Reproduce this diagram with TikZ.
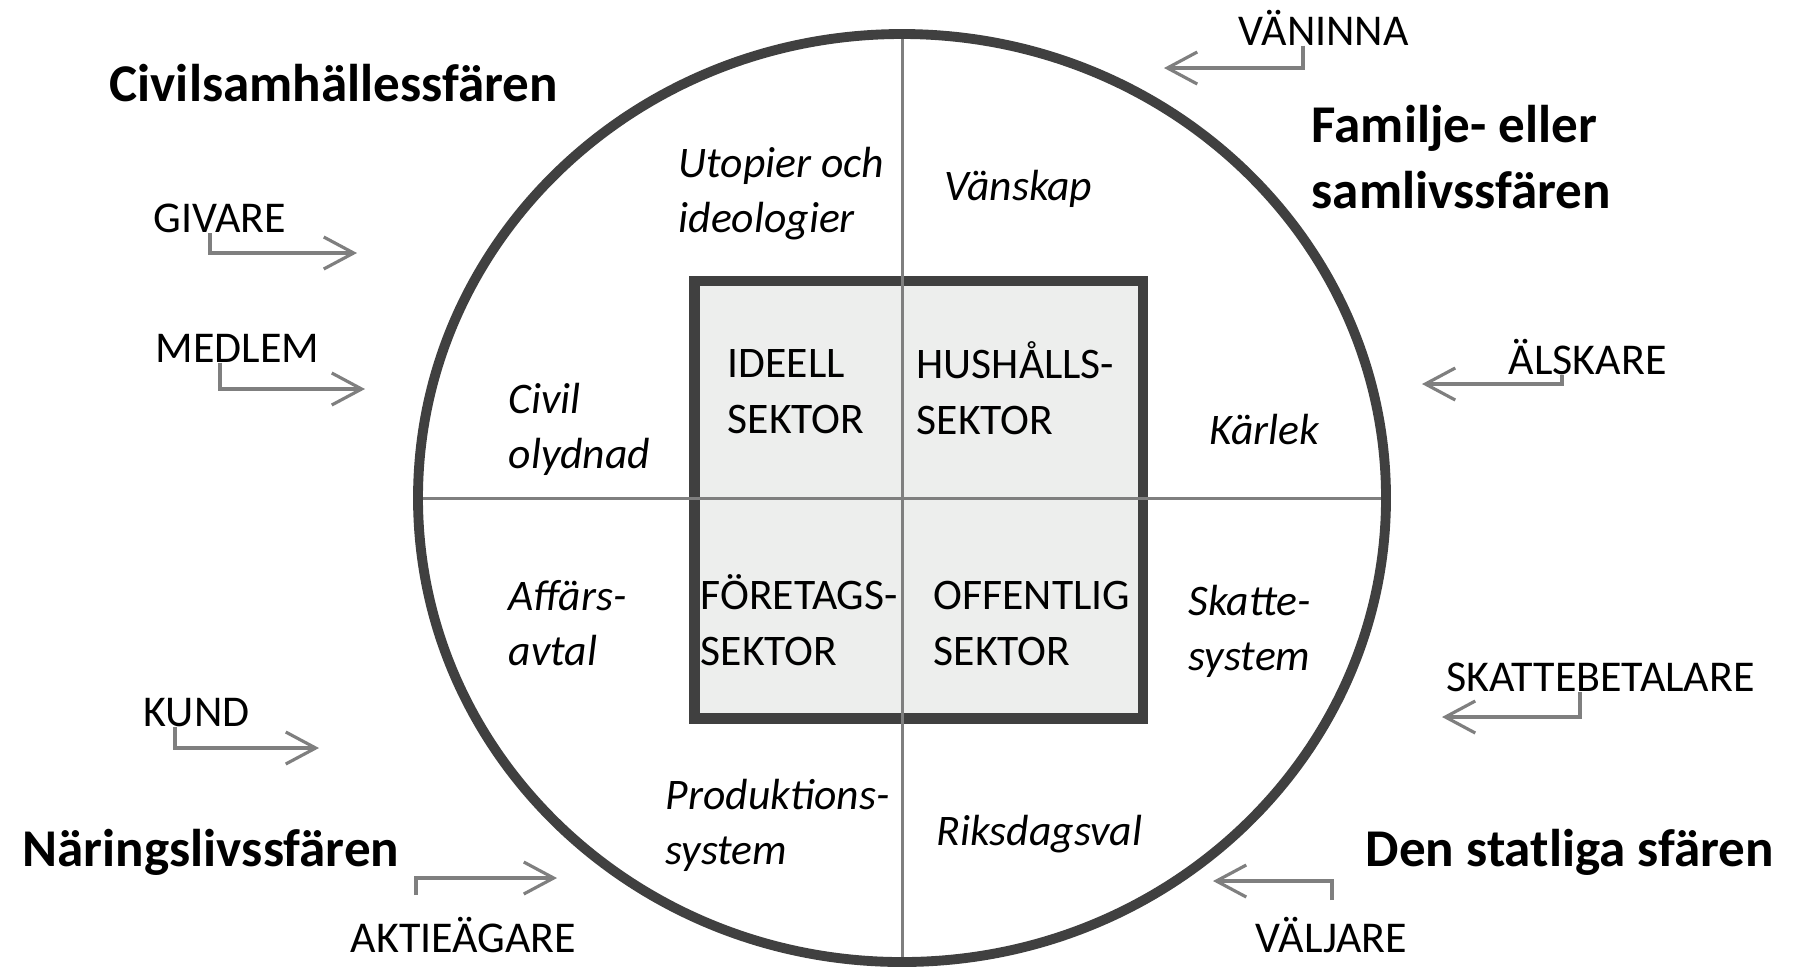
\documentclass[tikz,border=0pt]{standalone}
\usepackage{fontspec}
\setmainfont{Carlito}
\usetikzlibrary{arrows.meta}
\definecolor{rimgray}{HTML}{404040}
\definecolor{linegray}{HTML}{7F7F7F}
\definecolor{boxfill}{HTML}{EDEEED}
\tikzset{
  sphere/.style={draw=rimgray, line width=2.8pt},
  sectorbox/.style={draw=rimgray, fill=boxfill, line width=3.1pt},
  axis/.style={draw=linegray, line width=0.85pt},
  heading/.style={font=\fontsize{15.1}{18.5}\selectfont\bfseries, inner sep=0pt, anchor=base west, align=left},
  role/.style={font=\fontsize{12.5}{14.5}\selectfont, inner sep=0pt, anchor=base west},
  sector/.style={font=\fontsize{12.4}{15.9}\selectfont, inner sep=0pt, anchor=base west, align=left},
  bond/.style={font=\fontsize{12.4}{15.6}\selectfont\itshape, inner sep=0pt, anchor=base west, align=left},
  rolearrow/.style={draw=linegray, line width=0.9pt, -{Straight Barb[length=8.5pt,width=9.1pt]}},
}
\begin{document}
\begin{tikzpicture}[x=0.01cm, y=-0.01cm]
\useasboundingbox (0,0) rectangle (1795,969);
% the four sectors
\filldraw[sectorbox] (694.5,281) rectangle (1143,718.5);
\draw[axis] (418,498) -- (1387,498);
\draw[axis] (902,34) -- (902,962);
\draw[sphere] (902,498) ellipse [x radius=484, y radius=464];
% multi-line nodes sit on their last baseline
\node[sector] (ideell) at (727,433) {IDEELL\\SEKTOR};
\node[sector] (hushall) at (916,434) {HUSHÅLLS-\\SEKTOR};
\node[sector] (foretag) at (700,665) {FÖRETAGS-\\SEKTOR};
\node[sector] (offentlig) at (933,665) {OFFENTLIG\\SEKTOR};
% relations inside the circle
\node[bond] (utopi) at (678,232) {Utopier och\\ideologier};
\node[bond] (vanskap) at (944,200) {Vänskap};
\node[bond] (olydnad) at (508,468) {Civil\\olydnad};
\node[bond] (karlek) at (1209,444) {Kärlek};
\node[bond] (affar) at (508,665) {Affärs-\\avtal};
\node[bond] (skatt) at (1188,670) {Skatte-\\system};
\node[bond] (produktion) at (665,864) {Produktions-\\system};
\node[bond] (riksdag) at (936,845) {Riksdagsval};
% spheres
\node[heading] (civil) at (109,101) {Civilsamhällessfären};
\node[heading] (familj) at (1311,208) {Familje- eller\\samlivssfären};
\node[heading] (naring) at (22,866) {Näringslivssfären};
\node[heading] (statlig) at (1365,866) {Den statliga sfären};
% roles
\node[role] (givare) at (153,232) {GIVARE};
\node[role] (medlem) at (155,362) {MEDLEM};
\node[role] (kund) at (143,726) {KUND};
\node[role] (aktie) at (350,952) {AKTIEÄGARE};
\node[role] (vaninna) at (1238,45) {VÄNINNA};
\node[role] (alskare) at (1508,374) {ÄLSKARE};
\node[role] (skattebet) at (1446,691) {SKATTEBETALARE};
\node[role] (valjare) at (1255,952) {VÄLJARE};
\coordinate (givare-tip) at (357,253);
\coordinate (medlem-tip) at (365,389);
\coordinate (kund-tip) at (319,748);
\coordinate (aktie-foot) at (416,895);
\coordinate (aktie-tip) at (557,878);
\coordinate (vaninna-tip) at (1164,68);
\coordinate (alskare-tip) at (1422,384);
\coordinate (skattebet-tip) at (1442,717);
\coordinate (valjare-foot) at (1332,900);
\coordinate (valjare-tip) at (1213,881);
\draw[rolearrow] (givare.south -| 210,0) |- (givare-tip);
\draw[rolearrow] (medlem.south -| 220,0) |- (medlem-tip);
\draw[rolearrow] (kund.south -| 175,0) |- (kund-tip);
\draw[rolearrow] (aktie-foot) |- (aktie-tip);
\draw[rolearrow] (vaninna.south -| 1303,0) |- (vaninna-tip);
\draw[rolearrow] (alskare.south -| 1562,0) |- (alskare-tip);
\draw[rolearrow] (skattebet.south -| 1580,0) |- (skattebet-tip);
\draw[rolearrow] (valjare-foot) |- (valjare-tip);
\end{tikzpicture}
\end{document}
